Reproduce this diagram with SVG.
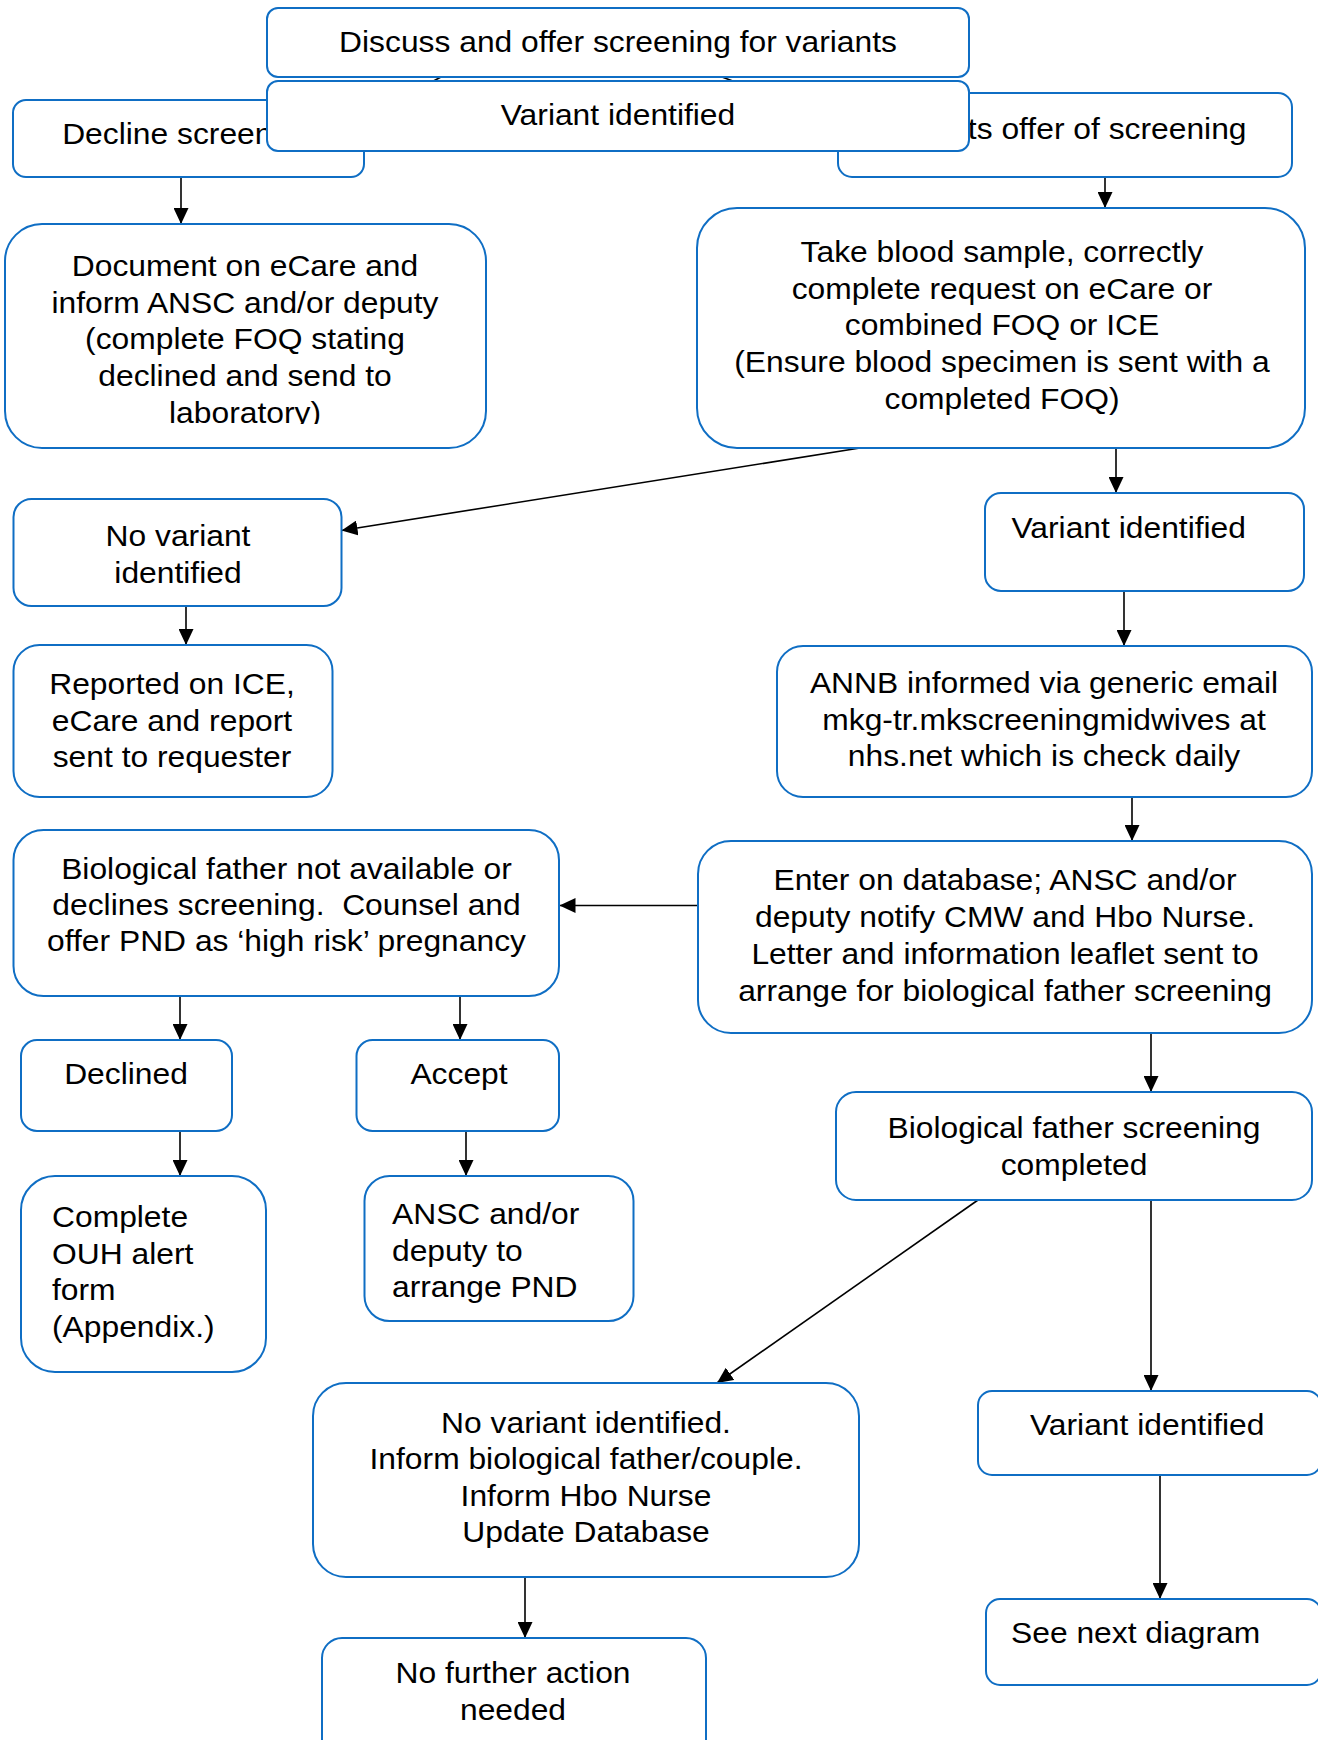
<svg xmlns="http://www.w3.org/2000/svg" width="1318" height="1740" viewBox="0 0 1318 1740">
<style>
.box{fill:#fff;stroke:#0F6EC4;stroke-width:2}
.t{font-family:"Liberation Sans",Arial,Helvetica,sans-serif;font-size:30px;fill:#000}
.c{text-anchor:middle}
.s{text-anchor:start}
.ln{fill:none;stroke:#000;stroke-width:1.6;marker-end:url(#ah)}
.hid{fill:none;stroke:#000;stroke-width:1.6}
</style>
<defs>
<marker id="ah" markerUnits="userSpaceOnUse" markerWidth="16" markerHeight="15" refX="16" refY="7.5" orient="auto">
<path d="M0,0 L16,7.5 L0,15 z" fill="#000"/>
</marker>
<clipPath id="clip5"><rect x="0" y="220" width="500" height="204"/></clipPath>
</defs>
<rect width="1318" height="1740" fill="#fff"/>

<g id="connectors">
<path class="hid" d="M441,77 L364,118"/>
<path class="hid" d="M722,77 L838,120"/>
<path class="ln" d="M181,177 L181,224"/>
<path class="ln" d="M1105,177 L1105,208"/>
<path class="ln" d="M860,448 L341.5,530.5"/>
<path class="ln" d="M1116,448 L1116,493"/>
<path class="ln" d="M186,606 L186,645"/>
<path class="ln" d="M1124,591 L1124,646"/>
<path class="ln" d="M1132,797 L1132,841"/>
<path class="ln" d="M698,905.5 L559.5,905.5"/>
<path class="ln" d="M180,996 L180,1040"/>
<path class="ln" d="M460,996 L460,1040"/>
<path class="ln" d="M180,1131 L180,1176"/>
<path class="ln" d="M466,1131 L466,1176"/>
<path class="ln" d="M1151,1033 L1151,1092"/>
<path class="ln" d="M978,1200 L717,1383"/>
<path class="ln" d="M1151,1200 L1151,1391"/>
<path class="ln" d="M1160,1475 L1160,1599"/>
<path class="ln" d="M525,1577 L525,1638"/>
</g>

<g id="decline">
<rect class="box" x="13" y="100" width="351" height="77" rx="13"/>
<text class="t c" transform="translate(188.5,144) scale(1.06,1)">Decline screening</text>
</g>

<g id="accepts">
<rect class="box" x="838" y="93" width="454" height="84" rx="14"/>
<text class="t c" transform="translate(1063,139) scale(1.06,1)">Accepts offer of screening</text>
</g>

<g id="discuss">
<rect class="box" x="267" y="8" width="702" height="69" rx="11"/>
<text class="t c" transform="translate(618,52) scale(1.06,1)">Discuss and offer screening for variants</text>
</g>

<g id="variant-top">
<rect class="box" x="267" y="81" width="702" height="70" rx="11"/>
<text class="t c" transform="translate(618,125) scale(1.06,1)">Variant identified</text>
</g>

<g id="document">
<rect class="box" x="5" y="224" width="481" height="224" rx="37"/>
<g clip-path="url(#clip5)">
<text class="t c" transform="translate(245,276) scale(1.06,1)"><tspan x="0" y="0">Document on eCare and</tspan><tspan x="0" y="36.7">inform ANSC and/or deputy</tspan><tspan x="0" y="73.4">(complete FOQ stating</tspan><tspan x="0" y="110.1">declined and send to</tspan><tspan x="0" y="146.8">laboratory)</tspan></text>
</g>
</g>

<g id="blood-sample">
<rect class="box" x="697" y="208" width="608" height="240" rx="40"/>
<text class="t c" transform="translate(1002,262) scale(1.06,1)"><tspan x="0" y="0">Take blood sample, correctly</tspan><tspan x="0" y="36.7">complete request on eCare or</tspan><tspan x="0" y="73.4">combined FOQ or ICE</tspan><tspan x="0" y="110.1">(Ensure blood specimen is sent with a</tspan><tspan x="0" y="146.8">completed FOQ)</tspan></text>
</g>

<g id="no-variant-1">
<rect class="box" x="13.5" y="499" width="328" height="107" rx="18"/>
<text class="t c" transform="translate(178,546) scale(1.06,1)"><tspan x="0" y="0">No variant</tspan><tspan x="0" y="36.7">identified</tspan></text>
</g>

<g id="variant-1">
<rect class="box" x="985" y="493" width="319" height="98" rx="16"/>
<text class="t s" transform="translate(1011.5,538) scale(1.06,1)">Variant identified</text>
</g>

<g id="reported">
<rect class="box" x="13.5" y="645" width="319" height="152" rx="26"/>
<text class="t c" transform="translate(172,694) scale(1.06,1)"><tspan x="0" y="0">Reported on ICE,</tspan><tspan x="0" y="36.7">eCare and report</tspan><tspan x="0" y="73.4">sent to requester</tspan></text>
</g>

<g id="annb">
<rect class="box" x="777" y="646" width="535" height="151" rx="26"/>
<text class="t c" transform="translate(1044,693) scale(1.06,1)"><tspan x="0" y="0">ANNB informed via generic email</tspan><tspan x="0" y="36.7">mkg-tr.mkscreeningmidwives at</tspan><tspan x="0" y="73.4">nhs.net which is check daily</tspan></text>
</g>

<g id="father-unavailable">
<rect class="box" x="13.5" y="830" width="545.5" height="166" rx="30"/>
<text class="t c" transform="translate(286.5,879) scale(1.06,1)"><tspan x="0" y="0">Biological father not available or</tspan><tspan x="0" y="36.5">declines screening.&#160; Counsel and</tspan><tspan x="0" y="72.5">offer PND as ‘high risk’ pregnancy</tspan></text>
</g>

<g id="enter-database">
<rect class="box" x="698" y="841" width="614" height="192" rx="33"/>
<text class="t c" transform="translate(1005,890) scale(1.06,1)"><tspan x="0" y="0">Enter on database; ANSC and/or</tspan><tspan x="0" y="36.9">deputy notify CMW and Hbo Nurse.</tspan><tspan x="0" y="73.8">Letter and information leaflet sent to</tspan><tspan x="0" y="110.7">arrange for biological father screening</tspan></text>
</g>

<g id="declined">
<rect class="box" x="21" y="1040" width="211" height="91" rx="16"/>
<text class="t c" transform="translate(126,1084) scale(1.06,1)">Declined</text>
</g>

<g id="accept">
<rect class="box" x="356.5" y="1040" width="202.5" height="91" rx="16"/>
<text class="t c" transform="translate(459,1084) scale(1.06,1)">Accept</text>
</g>

<g id="ouh-alert">
<rect class="box" x="21" y="1176" width="245" height="196" rx="34"/>
<text class="t s" transform="translate(52,1227) scale(1.06,1)"><tspan x="0" y="0">Complete</tspan><tspan x="0" y="36.7">OUH alert</tspan><tspan x="0" y="73.4">form</tspan><tspan x="0" y="110.1">(Appendix.)</tspan></text>
</g>

<g id="arrange-pnd">
<rect class="box" x="364.5" y="1176" width="269" height="145" rx="25"/>
<text class="t s" transform="translate(392,1224) scale(1.06,1)"><tspan x="0" y="0">ANSC and/or</tspan><tspan x="0" y="36.7">deputy to</tspan><tspan x="0" y="73.4">arrange PND</tspan></text>
</g>

<g id="father-completed">
<rect class="box" x="836" y="1092" width="476" height="108" rx="20"/>
<text class="t c" transform="translate(1074,1138) scale(1.06,1)"><tspan x="0" y="0">Biological father screening</tspan><tspan x="0" y="36.7">completed</tspan></text>
</g>

<g id="no-variant-2">
<rect class="box" x="313" y="1383" width="546" height="194" rx="33"/>
<text class="t c" transform="translate(586,1433) scale(1.06,1)"><tspan x="0" y="0">No variant identified.</tspan><tspan x="0" y="36.5">Inform biological father/couple.</tspan><tspan x="0" y="73">Inform Hbo Nurse</tspan><tspan x="0" y="109.5">Update Database</tspan></text>
</g>

<g id="variant-2">
<rect class="box" x="978" y="1391" width="343" height="84" rx="14"/>
<text class="t s" transform="translate(1030,1435) scale(1.06,1)">Variant identified</text>
</g>

<g id="see-next">
<rect class="box" x="986" y="1599" width="335" height="86" rx="14"/>
<text class="t s" transform="translate(1011,1643) scale(1.06,1)">See next diagram</text>
</g>

<g id="no-further">
<rect class="box" x="322" y="1638" width="384" height="130" rx="20"/>
<text class="t c" transform="translate(513,1683) scale(1.06,1)"><tspan x="0" y="0">No further action</tspan><tspan x="0" y="36.7">needed</tspan></text>
</g>
</svg>
